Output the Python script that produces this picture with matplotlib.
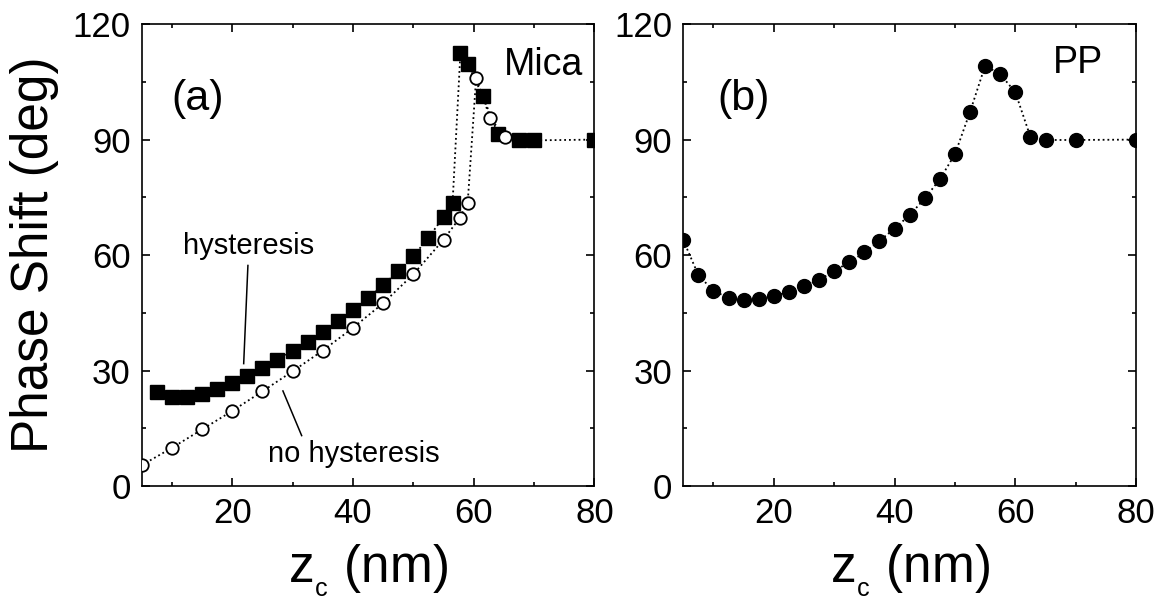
import matplotlib
matplotlib.use("Agg")
import matplotlib.pyplot as plt
from matplotlib.ticker import MultipleLocator

# Panel (a) – Mica, hysteresis branch (filled squares)
MICA_HYST_Z = [7.5, 10, 12.5, 15, 17.5, 20, 22.5, 25, 27.5, 30, 32.5, 35, 37.5,
               40, 42.5, 45, 47.5, 50, 52.5, 55, 56.5, 57.8, 59, 61.5, 64,
               67.5, 70, 80]
MICA_HYST_PHASE = [24.4, 23, 23, 23.9, 25.2, 26.8, 28.5, 30.7, 32.8, 35.1, 37.5,
                   39.9, 42.9, 45.6, 48.8, 52.2, 55.8, 59.7, 64.5, 69.9, 73.6,
                   112.6, 109.7, 101.3, 91.5, 90, 89.8, 90]
# Panel (a) – Mica, no hysteresis branch (open circles)
MICA_NOHYST_Z = [5, 10, 15, 20, 25, 30, 35, 40, 45, 50, 55, 57.7, 59, 60.4,
                 62.7, 65.2]
MICA_NOHYST_PHASE = [5.4, 9.9, 14.7, 19.5, 24.6, 29.8, 35.2, 41.1, 47.5, 55, 64,
                     69.7, 73.5, 106, 95.7, 90.6]
# Panel (b) – PP (filled circles)
PP_Z = [5, 7.5, 10, 12.5, 15, 17.5, 20, 22.5, 25, 27.5, 30, 32.5, 35, 37.5, 40,
        42.5, 45, 47.5, 50, 52.5, 55, 57.5, 60, 62.5, 65, 70, 80]
PP_PHASE = [63.9, 54.8, 50.7, 48.9, 48.3, 48.6, 49.4, 50.4, 52, 53.5, 55.9, 58.1,
            60.7, 63.7, 66.9, 70.4, 74.7, 79.7, 86.2, 97.2, 109.2, 107, 102.3,
            90.7, 89.9, 89.9, 90]

X_TICKS = [20, 40, 60, 80]
Y_TICKS = [0, 30, 60, 90, 120]

plt.rcParams['font.family'] = ['Liberation Sans', 'DejaVu Sans']
plt.rcParams['mathtext.default'] = 'regular'


def style_axes(ax):
    '''Common frame: inward ticks on all four sides, same limits'''
    ax.set_xlim(5, 80)
    ax.set_ylim(0, 120)
    ax.set_xticks(X_TICKS)
    ax.set_yticks(Y_TICKS)
    ax.xaxis.set_minor_locator(MultipleLocator(10))
    ax.yaxis.set_minor_locator(MultipleLocator(15))
    ax.tick_params(which='both', direction='in', top=True, right=True,
                   width=1.2, labelsize=25)
    ax.tick_params(which='major', length=6)
    ax.tick_params(which='minor', length=3)
    ax.tick_params(axis='y', pad=8)
    ax.tick_params(axis='x', pad=8)
    for sp in ax.spines.values():
        sp.set_linewidth(1.2)
    # double subscript -> smaller, lower "c" like the original
    ax.set_xlabel(r'$z_{_c}$ (nm)', fontsize=37, labelpad=9)


fig = plt.figure(figsize=(11.64, 6.03), dpi=100)
ax1 = fig.add_axes([0.1217, 0.194, 0.389, 0.766])
ax2 = fig.add_axes([0.587, 0.194, 0.389, 0.766])

# (a) Mica
ax1.plot(MICA_HYST_Z, MICA_HYST_PHASE, color='black', linestyle=':',
         linewidth=1.3, marker='s', markersize=9.5, markerfacecolor='black',
         markeredgecolor='black', zorder=2)
ax1.plot(MICA_NOHYST_Z, MICA_NOHYST_PHASE, color='black', linestyle=':',
         linewidth=1.3, marker='o', markersize=9, markerfacecolor='white',
         markeredgecolor='black', markeredgewidth=1.3, zorder=3)
style_axes(ax1)
ax1.set_ylabel('Phase Shift (deg)', fontsize=37, labelpad=10)
ax1.text(10, 100.5, '(a)', fontsize=31, va='center', ha='left')
ax1.text(65, 106.7, 'Mica', fontsize=27, va='baseline', ha='left')
ax1.text(11.8, 60.4, 'hysteresis', fontsize=21, va='baseline', ha='left')
ax1.plot([22.6, 21.9], [57.3, 31.8], color='black', linewidth=1.1)
ax1.text(26, 6.2, 'no hysteresis', fontsize=21, va='baseline', ha='left')
ax1.plot([28.4, 31.5], [24.7, 13.1], color='black', linewidth=1.1)

# (b) PP
ax2.plot(PP_Z, PP_PHASE, color='black', linestyle=':', linewidth=1.3,
         marker='o', markersize=10, markerfacecolor='black',
         markeredgecolor='black')
style_axes(ax2)
ax2.text(10.6, 100.5, '(b)', fontsize=31, va='center', ha='left')
ax2.text(66.3, 107.3, 'PP', fontsize=27, va='baseline', ha='left')

fig.savefig('out.png', dpi=100)
